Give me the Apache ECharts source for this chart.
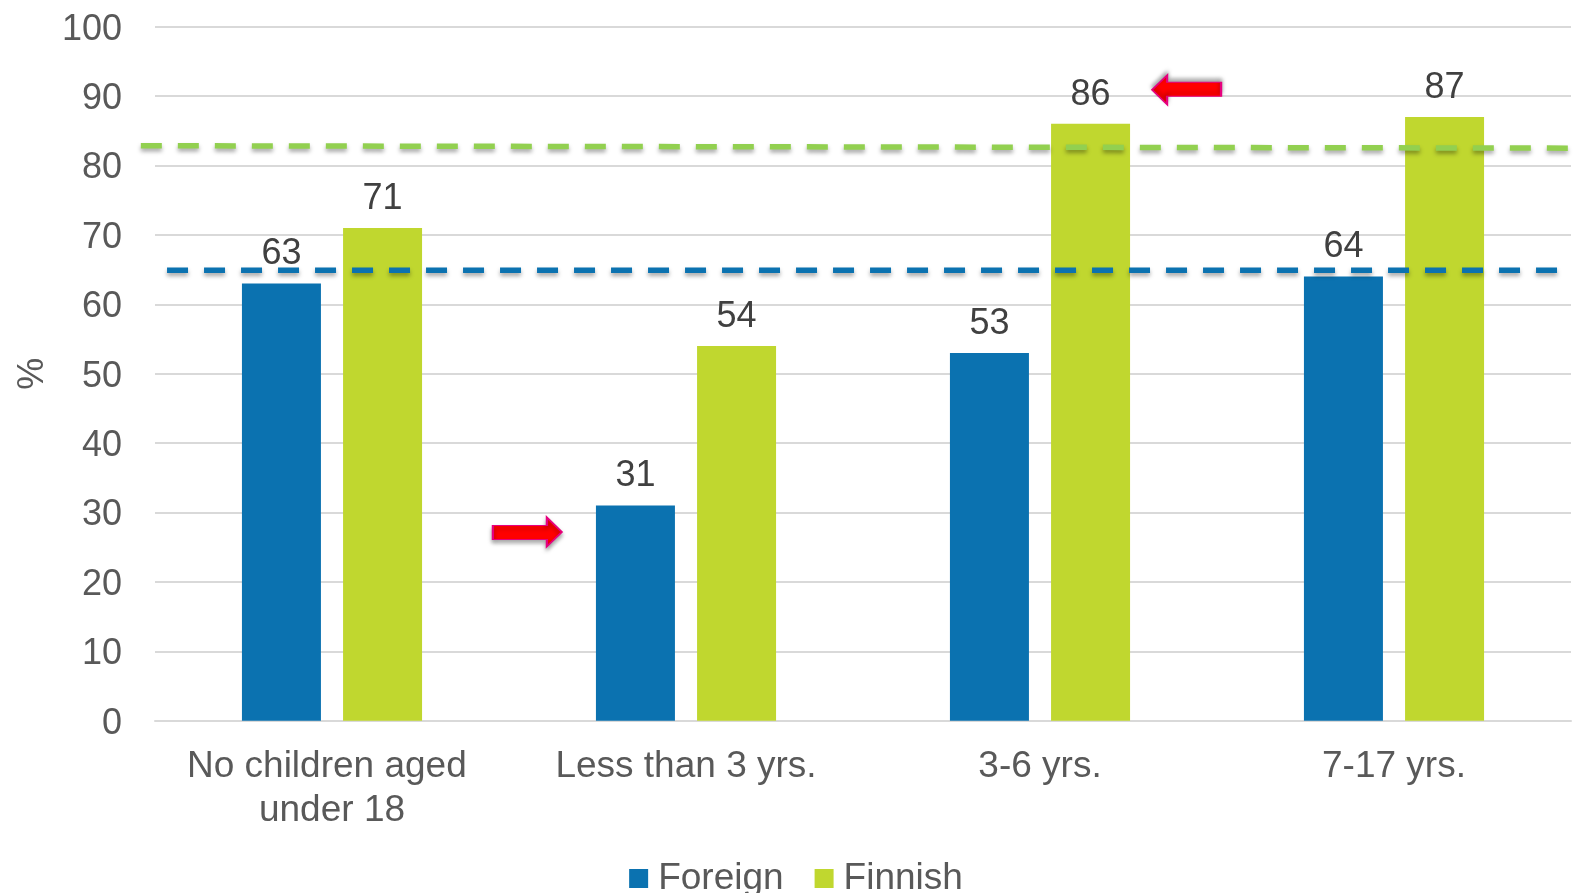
<!DOCTYPE html>
<html>
<head>
<meta charset="utf-8">
<title>Employment rate by age of youngest child</title>
<script src="https://cdn.jsdelivr.net/npm/echarts@6.0.0/dist/echarts.min.js"></script>
<style>
  html, body { margin: 0; padding: 0; background: #fff; }
  #chart { width: 1592px; height: 893px; }
</style>
</head>
<body>
<div id="chart"></div>
<script>
// categories and values
var categories = ["No children aged under 18", "Less than 3 yrs.", "3-6 yrs.", "7-17 yrs."];
var foreign = [63, 31, 53, 64];
var finnish = [71, 54, 86, 87];
var yTicks = [0, 10, 20, 30, 40, 50, 60, 70, 80, 90, 100];

// reference (average) lines, x in category-index units
var finnishAvgLine = [[-0.54, 82.85], [3.525, 82.5]];
var foreignAvgLine = [[-0.466, 64.9], [3.494, 64.9]];

// red arrows: x in category-index units, y in %
var arrowRight = [[0.552, 27.2]];
var arrowLeft = [[2.414, 90.9]];

var FONT = "'Liberation Sans', Arial, sans-serif";
var BLUE = "#0B72B0";
var GREEN = "#C0D72F";
var arrowPath = "path://M0,8 L54,8 L54,0 L69,14.5 L54,29 L54,22 L0,22 Z";

var myChart = echarts.init(document.getElementById("chart"));
myChart.setOption({
  animation: false,
  textStyle: { fontFamily: FONT },
  legend: {
    data: ["Foreign", "Finnish"],
    left: "center",
    top: 855,
    itemWidth: 19,
    itemHeight: 19,
    itemGap: 31,
    icon: "rect",
    textStyle: {
      fontFamily: FONT,
      fontSize: 37,
      color: "#595959",
      padding: [0, 0, 0, 5],
    },
  },
  grid: [
    { left: 155, right: 21, top: 26.7, bottom: 172.3 },
    // wider overlay grid for the average lines and arrows (they run past the plot)
    { left: 135, right: 5, top: 26.7, bottom: 172.3 },
  ],
  xAxis: [
    {
      type: "category",
      data: categories,
      axisTick: { show: false },
      axisLine: { lineStyle: { color: "#D9D9D9", width: 2 } },
      axisLabel: {
        fontFamily: FONT,
        fontSize: 37,
        color: "#595959",
        margin: 24,
        lineHeight: 44,
        width: 340,
        overflow: "break",
        interval: 0,
      },
    },
    {
      gridIndex: 1,
      type: "value",
      min: -0.5565,
      max: 3.5452,
      show: false,
    },
  ],
  yAxis: [
    {
      type: "value",
      min: 0,
      max: 100,
      interval: 10,
      name: "%",
      nameLocation: "middle",
      nameGap: 104,
      nameTextStyle: { fontFamily: FONT, fontSize: 36, color: "#595959" },
      axisLine: { show: false },
      axisTick: { show: false },
      axisLabel: {
        fontFamily: FONT,
        fontSize: 36,
        color: "#595959",
        margin: 33,
        verticalAlign: "top",
        lineHeight: 6,
        formatter: function (v) {
          return yTicks.indexOf(v) >= 0 ? String(v) : "";
        },
      },
      splitLine: { lineStyle: { color: "#D9D9D9", width: 2 } },
    },
    {
      gridIndex: 1,
      type: "value",
      min: 0,
      max: 100,
      show: false,
    },
  ],
  series: [
    {
      name: "Foreign",
      type: "bar",
      data: foreign,
      barWidth: 79,
      barGap: "28%",
      itemStyle: { color: BLUE },
      label: {
        show: true,
        position: "top",
        distance: 11,
        fontFamily: FONT,
        fontSize: 36,
        color: "#404040",
      },
    },
    {
      name: "Finnish",
      type: "bar",
      data: finnish,
      barWidth: 79,
      itemStyle: { color: GREEN },
      label: {
        show: true,
        position: "top",
        distance: 11,
        fontFamily: FONT,
        fontSize: 36,
        color: "#404040",
      },
    },
    {
      name: "Finnish average",
      type: "line",
      xAxisIndex: 1,
      yAxisIndex: 1,
      data: finnishAvgLine,
      symbol: "none",
      silent: true,
      z: 5,
      lineStyle: {
        color: "#92D050",
        width: 5.5,
        type: [21, 16],
        shadowColor: "rgba(0,0,0,0.35)",
        shadowBlur: 4,
        shadowOffsetY: 3,
      },
    },
    {
      name: "Foreign average",
      type: "line",
      xAxisIndex: 1,
      yAxisIndex: 1,
      data: foreignAvgLine,
      symbol: "none",
      silent: true,
      z: 5,
      lineStyle: {
        color: "#0B72B0",
        width: 5.5,
        type: [21, 16],
        shadowColor: "rgba(0,0,0,0.35)",
        shadowBlur: 4,
        shadowOffsetY: 3,
      },
    },
    {
      name: "arrow right",
      type: "scatter",
      xAxisIndex: 1,
      yAxisIndex: 1,
      data: arrowRight,
      symbol: arrowPath,
      symbolSize: [69, 29],
      silent: true,
      z: 6,
      itemStyle: {
        color: "#FF0000",
        borderColor: "#E6007E",
        borderWidth: 1.5,
        shadowColor: "rgba(0,0,0,0.35)",
        shadowBlur: 4,
        shadowOffsetY: 3,
        opacity: 1,
      },
    },
    {
      name: "arrow left",
      type: "scatter",
      xAxisIndex: 1,
      yAxisIndex: 1,
      data: arrowLeft,
      symbol: arrowPath,
      symbolSize: [69, 29],
      symbolRotate: 180,
      silent: true,
      z: 6,
      itemStyle: {
        color: "#FF0000",
        borderColor: "#E6007E",
        borderWidth: 1.5,
        shadowColor: "rgba(0,0,0,0.35)",
        shadowBlur: 4,
        shadowOffsetY: -3,
        opacity: 1,
      },
    },
  ],
});
window.addEventListener("resize", function () {
  myChart.resize();
});
</script>
</body>
</html>
